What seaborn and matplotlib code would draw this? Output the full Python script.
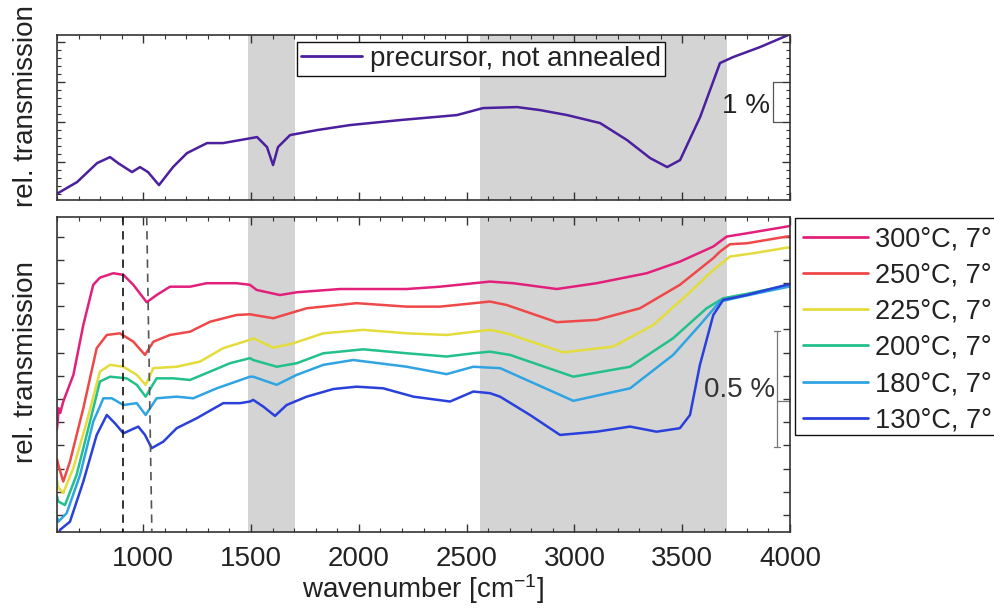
import matplotlib
matplotlib.use("Agg")
import matplotlib.pyplot as plt
import numpy as np
import pandas as pd
import seaborn as sns
from matplotlib.lines import Line2D
from matplotlib.patches import Rectangle
from matplotlib.ticker import MultipleLocator, NullFormatter

# ---------------- data ----------------
prec_wn = [600, 605, 693, 786, 846, 883, 948, 985, 1022, 1073, 1138, 1203, 1296, 1370, 1449, 1528,
           1574, 1602, 1625, 1681, 1806, 1959, 2191, 2455, 2576, 2734, 2840, 2966, 3119, 3244, 3351,
           3430, 3490, 3583, 3675, 3736, 3861, 3991, 4000]
prec_val = [0.20, 0.225, 0.50, 0.975, 1.125, 0.975, 0.75, 0.875, 0.75, 0.425, 0.875, 1.225, 1.475,
            1.475, 1.55, 1.625, 1.375, 0.925, 1.375, 1.675, 1.80, 1.925, 2.05, 2.175, 2.35, 2.375,
            2.30, 2.175, 1.975, 1.55, 1.10, 0.875, 1.05, 2.125, 3.475, 3.625, 3.875, 4.175, 4.19]
prec_label = "precursor, not annealed"

wn_300 = [600, 608, 615, 629, 676, 722, 768, 799, 861, 908, 954, 1016, 1062, 1124, 1217, 1294, 1433,
          1495, 1526, 1634, 1712, 1913, 2222, 2376, 2608, 2716, 2918, 3103, 3335, 3489, 3644, 3706,
          3799, 3984, 4000]
val_300 = [0.47, 0.56, 0.54, 0.589, 0.704, 0.919, 1.092, 1.123, 1.142, 1.135, 1.092, 1.017, 1.048,
           1.084, 1.084, 1.099, 1.099, 1.092, 1.070, 1.048, 1.060, 1.074, 1.074, 1.084, 1.106, 1.099,
           1.074, 1.099, 1.142, 1.192, 1.257, 1.300, 1.314, 1.343, 1.346]

wn_250 = [600, 606, 629, 660, 722, 784, 831, 892, 954, 1008, 1047, 1124, 1217, 1310, 1433, 1495, 1603,
          1758, 1990, 2222, 2376, 2608, 2686, 2918, 3103, 3304, 3489, 3644, 3675, 3721, 3799, 3984, 4000]
val_250 = [0.34, 0.316, 0.244, 0.330, 0.560, 0.819, 0.876, 0.883, 0.847, 0.790, 0.847, 0.876, 0.890,
           0.933, 0.962, 0.965, 0.948, 0.991, 1.013, 0.998, 0.998, 1.020, 1.005, 0.931, 0.941, 0.991,
           1.092, 1.207, 1.235, 1.267, 1.271, 1.300, 1.302]

wn_225 = [600, 606, 629, 676, 738, 799, 846, 908, 970, 1011, 1047, 1155, 1263, 1371, 1495, 1510, 1603,
          1696, 1835, 2020, 2222, 2407, 2608, 2686, 2948, 3180, 3366, 3521, 3644, 3721, 3829, 3984, 4000]
val_225 = [0.25, 0.217, 0.195, 0.303, 0.502, 0.718, 0.747, 0.739, 0.704, 0.661, 0.733, 0.739, 0.761,
           0.819, 0.855, 0.862, 0.821, 0.840, 0.883, 0.898, 0.883, 0.876, 0.898, 0.883, 0.801, 0.826,
           0.919, 1.048, 1.156, 1.214, 1.228, 1.252, 1.254]

wn_200 = [600, 606, 637, 691, 753, 799, 846, 923, 970, 1011, 1062, 1139, 1217, 1310, 1402, 1495, 1510,
          1619, 1712, 1835, 2020, 2222, 2407, 2531, 2608, 2701, 2995, 3258, 3458, 3613, 3690, 3799,
          3984, 4000]
val_200 = [0.18, 0.158, 0.143, 0.273, 0.502, 0.675, 0.696, 0.689, 0.661, 0.610, 0.689, 0.689, 0.682,
           0.718, 0.754, 0.776, 0.768, 0.739, 0.754, 0.797, 0.814, 0.797, 0.783, 0.797, 0.804, 0.790,
           0.696, 0.739, 0.862, 0.991, 1.034, 1.053, 1.089, 1.092]

wn_180 = [600, 606, 645, 707, 768, 815, 854, 908, 970, 1011, 1062, 1155, 1232, 1341, 1495, 1510, 1619,
          1712, 1835, 1974, 2222, 2407, 2531, 2608, 2655, 2995, 3258, 3458, 3582, 3675, 3799, 3984, 4000]
val_180 = [0.09, 0.071, 0.108, 0.273, 0.502, 0.603, 0.603, 0.574, 0.582, 0.531, 0.603, 0.610, 0.603,
           0.646, 0.696, 0.696, 0.661, 0.704, 0.747, 0.768, 0.739, 0.707, 0.739, 0.735, 0.733, 0.592,
           0.646, 0.790, 0.919, 1.020, 1.046, 1.082, 1.085]

wn_130 = [600, 614, 660, 722, 784, 831, 869, 908, 977, 1008, 1039, 1093, 1155, 1248, 1371, 1449, 1495,
          1510, 1557, 1611, 1665, 1758, 1882, 1990, 2113, 2253, 2423, 2531, 2608, 2655, 2794, 2933,
          3103, 3258, 3381, 3489, 3536, 3582, 3644, 3690, 3799, 3984, 4000]
val_130 = [-0.02, 0.036, 0.071, 0.244, 0.445, 0.531, 0.495, 0.452, 0.481, 0.445, 0.388, 0.416, 0.474,
           0.517, 0.582, 0.582, 0.589, 0.596, 0.567, 0.527, 0.574, 0.610, 0.643, 0.653, 0.646, 0.610,
           0.589, 0.632, 0.625, 0.610, 0.531, 0.445, 0.459, 0.481, 0.459, 0.474, 0.531, 0.747, 0.962,
           1.027, 1.048, 1.092, 1.094]

# legend texts as visible in the reference (cut by the figure edge there)
series_labels = ["300°C, 7°", "250°C, 7°", "225°C, 7°",
                 "200°C, 7°", "180°C, 7°", "130°C, 7°"]
series_wn = [wn_300, wn_250, wn_225, wn_200, wn_180, wn_130]
series_val = [val_300, val_250, val_225, val_200, val_180, val_130]
series_colors = ["#e2207c", "#ee4848", "#e3dc3c", "#22c08c", "#30a4e2", "#2a40da"]
prec_color = "#4b1f9e"

bands = [(1487, 1705), (2560, 3706)]
dash_line_1 = 906
dash_line_2 = (1016, 1040)   # top, bottom (slanted)

# ---------------- style ----------------
sns.set_style("white")
plt.rcParams["font.family"] = ["Liberation Sans", "DejaVu Sans"]
plt.rcParams["mathtext.fontset"] = "custom"
plt.rcParams["mathtext.rm"] = "Liberation Sans"
plt.rcParams["mathtext.it"] = "Liberation Sans:italic"
plt.rcParams["mathtext.bf"] = "Liberation Sans:bold"
plt.rcParams["text.color"] = "#222222"
plt.rcParams["axes.labelcolor"] = "#222222"
plt.rcParams["xtick.color"] = "#333333"
plt.rcParams["ytick.color"] = "#333333"
plt.rcParams["xtick.labelcolor"] = "#222222"
plt.rcParams["axes.edgecolor"] = "#333333"

W, H = 995, 610
fig = plt.figure(figsize=(W / 100, H / 100), dpi=100)
ax1 = fig.add_axes([0.0573, 0.672, 0.7367, 0.2705])
ax2 = fig.add_axes([0.0573, 0.1279, 0.7367, 0.5164])

TOP_YLIM = (0.05, 4.175)
BOT_YLIM = (0.0267, 1.3845)

for ax in (ax1, ax2):
    for b0, b1 in bands:
        ax.axvspan(b0, b1, color="#d4d4d4", lw=0, zorder=0)

# top panel
df_prec = pd.DataFrame({"wn": prec_wn, "val": prec_val})
sns.lineplot(data=df_prec, x="wn", y="val", color=prec_color, lw=1.8, ax=ax1,
             estimator=None, sort=False, legend=False)

# bottom panel
frames = []
for lab, w, v in zip(series_labels, series_wn, series_val):
    frames.append(pd.DataFrame({"wn": w, "val": v, "series": lab}))
df = pd.concat(frames, ignore_index=True)
sns.lineplot(data=df, x="wn", y="val", hue="series", hue_order=series_labels,
             palette=dict(zip(series_labels, series_colors)), lw=1.8, ax=ax2,
             estimator=None, sort=False, legend=False)

# dashed marker lines
ax2.plot([dash_line_1, dash_line_1], [BOT_YLIM[1], BOT_YLIM[0]], color="#111111",
         lw=1.2, dashes=(5, 3.5), zorder=5)
ax2.plot([dash_line_2[0], dash_line_2[1]], [BOT_YLIM[1], BOT_YLIM[0]], color="#555555",
         lw=1.2, dashes=(5, 3.5), zorder=5)

# axes formatting
for ax, ylim in ((ax1, TOP_YLIM), (ax2, BOT_YLIM)):
    ax.set_xlim(600, 4000)
    ax.set_ylim(*ylim)
    ax.xaxis.set_major_locator(MultipleLocator(500))
    ax.xaxis.set_minor_locator(MultipleLocator(100))
    ax.yaxis.set_major_formatter(NullFormatter())
    ax.tick_params(which="both", direction="in", top=True, right=True, left=True, bottom=True)
    ax.tick_params(which="major", length=6, width=1.0)
    ax.tick_params(which="minor", length=3, width=0.8)
    for s in ax.spines.values():
        s.set_linewidth(1.2)
        s.set_color("#333333")
    ax.set_xlabel("")
    ax.set_ylabel("rel. transmission", fontsize=20)

ax1.yaxis.set_major_locator(MultipleLocator(1))
ax1.yaxis.set_minor_locator(MultipleLocator(0.2))
ax1.xaxis.set_major_formatter(NullFormatter())
ax1.yaxis.set_label_coords(-0.025, 0.57)

ax2.yaxis.set_major_locator(MultipleLocator(0.1))
ax2.yaxis.set_minor_locator(MultipleLocator(0.1))
ax2.tick_params(axis="y", which="major", length=5)
ax2.tick_params(axis="x", which="major", labelsize=20, pad=10)
ax2.yaxis.set_label_coords(-0.025, 0.54)
ax2.set_xlabel(r"wavenumber [cm$^{\mathregular{-1}}$]", fontsize=20, labelpad=0)

# scale bars
sb1_x = 3921
ax1.plot([sb1_x, sb1_x], [2.0, 3.0], color="#555555", lw=0.9)
ax1.plot([sb1_x, sb1_x + 40], [2.0, 2.0], color="#555555", lw=0.9)
ax1.plot([sb1_x, sb1_x + 40], [3.0, 3.0], color="#555555", lw=0.9)
ax1.text(sb1_x - 15, 2.4, "1 %", fontsize=20, ha="right", va="center", color="#222222")

sb2_x = 3939
ax2.plot([sb2_x, sb2_x], [0.393, 0.893], color="#777777", lw=0.9)
ax2.plot([sb2_x - 15, sb2_x + 15], [0.393, 0.393], color="#777777", lw=0.9)
ax2.plot([sb2_x - 15, sb2_x + 15], [0.893, 0.893], color="#777777", lw=0.9)
ax2.plot([sb2_x, 4000], [0.592, 0.592], color="#777777", lw=0.9)
ax2.text(sb2_x - 10, 0.64, "0.5 %", fontsize=20, ha="right", va="center", color="#333333")

# legends
h1 = [Line2D([], [], color=prec_color, lw=2)]
leg1 = ax1.legend(h1, [prec_label], loc="upper left", bbox_to_anchor=(0.327, 0.958),
                  fontsize=20, frameon=True, fancybox=False, edgecolor="#111111",
                  framealpha=1, borderpad=0.15, handlelength=2.2, handletextpad=0.3,
                  borderaxespad=0)
leg1.get_frame().set_linewidth(1.0)

h2 = [Line2D([], [], color=c, lw=2) for c in series_colors]
leg2 = ax2.legend(h2, series_labels, loc="upper left", bbox_to_anchor=(1.007, 0.997),
                  fontsize=19.5, frameon=False, borderpad=0.3, labelspacing=0.38,
                  handlelength=2.4, handletextpad=0.25, borderaxespad=0)
# legend frame that runs past the right edge of the figure, as in the reference
box_left, box_top, box_bottom = 795, 218, 435
fig.add_artist(Rectangle((box_left / W, 1 - box_bottom / H), 0.3, (box_bottom - box_top) / H,
                         transform=fig.transFigure, fill=False, edgecolor="#111111",
                         lw=1.0, clip_on=False))

fig.savefig("out.png", dpi=100)
